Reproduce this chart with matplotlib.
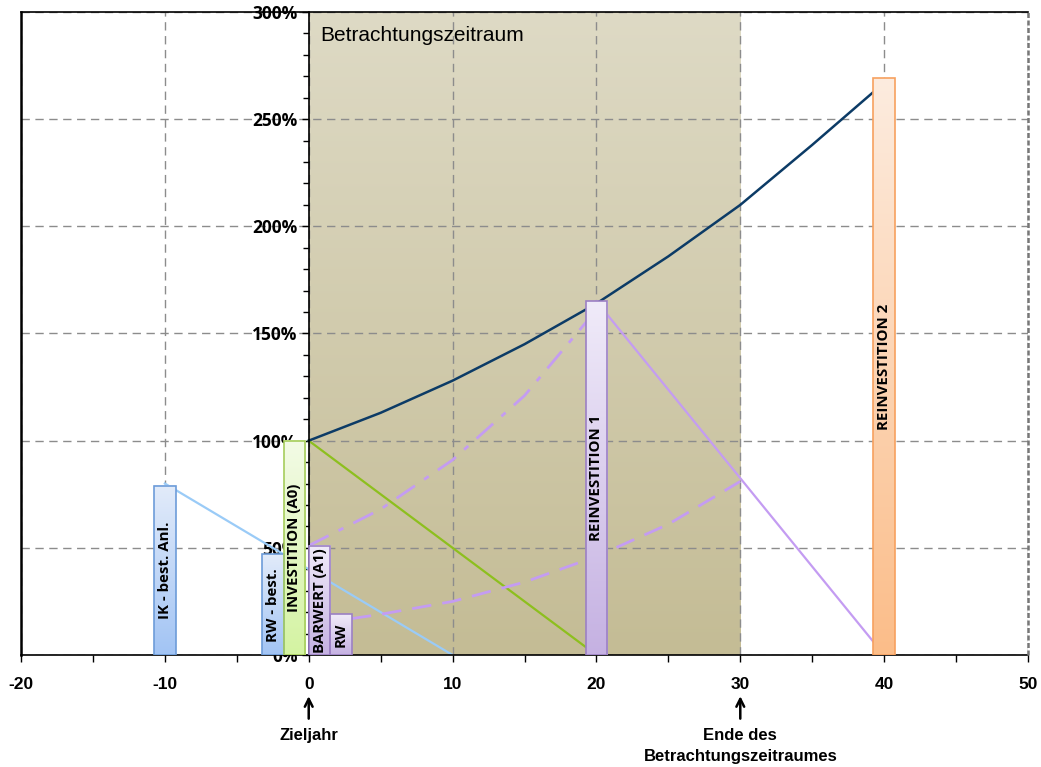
import numpy as np
import matplotlib
import matplotlib.pyplot as plt
from matplotlib.ticker import MultipleLocator, FuncFormatter
from matplotlib.colors import LinearSegmentedColormap

matplotlib.use('agg')
plt.rcParams['axes.unicode_minus'] = False

# data (percent over years)
growth_x = [0, 5, 10, 15, 20, 25, 30, 35, 40]
growth_y = [100, 113, 128, 145, 164, 186, 210, 238, 267]

dashdot_x = [0, 5, 10, 15, 20]
dashdot_y = [51, 68, 91, 121, 161]

dashed_x = [3, 5, 10, 15, 20, 25, 30]
dashed_y = [17, 19, 25, 34, 46, 61, 81]

blue_line_x = [-10, 10]
blue_line_y = [80, 0]
green_line_x = [0, 20]
green_line_y = [100, 0]
purple_line_x = [20, 40]
purple_line_y = [165, 0]

bar_labels = ['IK - best. Anl.', 'RW - best.', 'INVESTITION (A0)', 'BARWERT (A1)',
              'RW', 'REINVESTITION 1', 'REINVESTITION 2']
bar_x = [-10, -2.5, -1.0, 0.75, 2.25, 20, 40]
bar_h = [79, 47, 100, 51, 19, 165, 269]
bar_style = ['blue', 'blue', 'green', 'purple', 'purple', 'purple', 'orange']

styles = {
    'blue': ('#E2EBFA', '#A2C4F4', '#6D9CD9'),
    'green': ('#F3FBE6', '#D4F3A2', '#A6CD5C'),
    'purple': ('#F0EBF9', '#C5B1E2', '#9C80C4'),
    'orange': ('#FDECDF', '#FBBD89', '#F7A15F'),
}
BAR_W = 1.5
NARROW = ['Liberation Sans Narrow', 'Liberation Sans']

fig = plt.figure(figsize=(10.41, 7.67), dpi=100)
ax = fig.add_axes([21 / 1041, 112 / 767, 1007 / 1041, 643 / 767])
ax.set_axisbelow(True)


def vgrad(x0, x1, y0, y1, c_top, c_bot, z):
    cmap = LinearSegmentedColormap.from_list('g', [c_bot, c_top])
    grad = np.linspace(0, 1, 256).reshape(-1, 1)
    ax.imshow(grad, cmap=cmap, extent=[x0, x1, y0, y1], origin='lower',
              aspect='auto', zorder=z, interpolation='bicubic')


# Betrachtungszeitraum shading
vgrad(0, 30, 0, 300, '#DEDAC5', '#C4BC95', 0.2)
ax.text(0.8, 293.5, 'Betrachtungszeitraum', fontsize=15, family='Liberation Sans',
        va='top', ha='left', zorder=1)

# lines
ax.plot(blue_line_x, blue_line_y, color='#9ACBF7', lw=1.6, zorder=2)
ax.plot(green_line_x, green_line_y, color='#8DBF1E', lw=1.6, zorder=2)
ax.plot(purple_line_x, purple_line_y, color='#C49CF2', lw=1.6, zorder=2)
ax.plot(dashdot_x, dashdot_y, color='#C49CF2', lw=2, zorder=2,
        dashes=(8, 4, 2, 4))
ax.plot(dashed_x, dashed_y, color='#C49CF2', lw=2, zorder=2, dashes=(7, 4))
ax.plot(growth_x, growth_y, color='#0C3B66', lw=1.8, zorder=2)

# bars with gradient
for lab, x, h, st in zip(bar_labels, bar_x, bar_h, bar_style):
    ctop, cbot, edge = styles[st]
    vgrad(x - BAR_W / 2, x + BAR_W / 2, 0, h, ctop, cbot, 3)
    ax.add_patch(plt.Rectangle((x - BAR_W / 2, 0), BAR_W, h, fill=False,
                               edgecolor=edge, lw=1.2, zorder=3.1))
    ax.text(x, h / 2, lab, rotation=90, ha='center', va='center',
            fontsize=10.8, fontweight='bold', family='Open Sans', zorder=4)

ax.set_xlim(-20, 50)
ax.set_ylim(0, 300)

# axes styling
ax.spines['left'].set_position(('data', 0))
ax.spines['right'].set_visible(False)
for s in ['left', 'bottom', 'top']:
    ax.spines[s].set_color('black')
    ax.spines[s].set_linewidth(1.2)
ax.axvline(-20, color='black', lw=1.8, clip_on=False, zorder=5)
ax.axvline(50, color='#777777', lw=1.8, ls=(0, (2, 1)), clip_on=False, zorder=5)

ax.xaxis.set_major_locator(MultipleLocator(10))
ax.xaxis.set_minor_locator(MultipleLocator(5))
ax.yaxis.set_major_locator(MultipleLocator(50))
ax.yaxis.set_minor_locator(MultipleLocator(10))
ax.yaxis.set_major_formatter(FuncFormatter(lambda v, p: f'{v:.0f}%'))
ax.tick_params(axis='x', which='both', direction='out', length=5, width=1,
               pad=11, labelsize=12.5)
ax.tick_params(axis='y', which='major', direction='out', length=5, width=1,
               pad=3, labelsize=12.5)
ax.tick_params(axis='y', which='minor', direction='out', length=4, width=1)
for t in ax.get_xticklabels():
    t.set_fontweight('bold')
    t.set_family(NARROW)
for t in ax.get_yticklabels():
    t.set_fontweight('bold')
    t.set_family('Open Sans')

ax.grid(True, which='major', color='#8C8C8C', lw=1, dashes=(6, 4))

# annotations below the axis
trans = ax.get_xaxis_transform()
for xv in [0, 30]:
    ax.annotate('', xy=(xv, -0.064), xytext=(xv, -0.099), xycoords=trans,
                arrowprops=dict(arrowstyle='->', color='black', lw=1.8,
                                mutation_scale=14, shrinkA=0, shrinkB=0))
ax.text(0, -0.113, 'Zieljahr', transform=trans, ha='center', va='top',
        fontsize=12, fontweight='bold', family=NARROW)
ax.text(30, -0.113, 'Ende des\nBetrachtungszeitraumes', transform=trans,
        ha='center', va='top', fontsize=12, fontweight='bold', linespacing=1.55,
        family=NARROW)

fig.savefig('out.png', dpi=100)
